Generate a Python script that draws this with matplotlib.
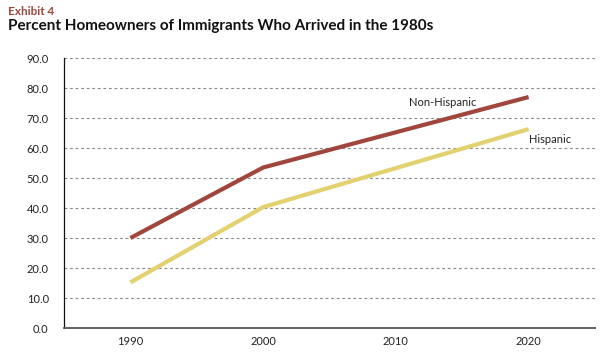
import matplotlib
matplotlib.use("Agg")
import matplotlib.pyplot as plt

# chart data
categories = ["1990", "2000", "2010", "2020"]
years = [1990, 2000, 2020]
non_hispanic = [30.0, 53.5, 77.0]
hispanic = [15.2, 40.3, 66.3]
yticks = [0, 10, 20, 30, 40, 50, 60, 70, 80, 90]

RED = "#a0463c"
YELLOW = "#e3d06f"

plt.rcParams["font.family"] = ["Lato", "DejaVu Sans"]

fig = plt.figure(figsize=(6.05, 3.54), dpi=100)
ax = fig.add_axes([0.1058, 0.0734, 0.8777, 0.7627])

xpos = [categories.index(str(y)) for y in years]
ax.plot(xpos, non_hispanic, color=RED, lw=3.0, solid_capstyle="butt")
ax.plot(xpos, hispanic, color=YELLOW, lw=3.0, solid_capstyle="butt")

ax.text(2.355, 75.3, "Non-Hispanic", fontsize=8, ha="center", va="center", color="#222222")
ax.text(3.0, 62.7, "Hispanic", fontsize=8, ha="left", va="center", color="#222222")

ax.set_xlim(-0.5, 3.5)
ax.set_ylim(0, 90)
ax.set_xticks(range(len(categories)))
ax.set_xticklabels(categories)
ax.set_yticks(yticks)
ax.set_yticklabels([f"{v:.1f}" for v in yticks])
ax.tick_params(axis="both", length=0, labelsize=8, colors="#222222")
ax.tick_params(axis="y", pad=11)
ax.tick_params(axis="x", pad=6)

for v in yticks[1:]:
    ax.axhline(v, color="#888888", lw=0.8, ls=(0, (2.5, 2.5)), zorder=0)

for side in ("top", "right"):
    ax.spines[side].set_visible(False)
ax.spines["left"].set_color("#111111")
ax.spines["left"].set_linewidth(0.9)
ax.spines["bottom"].set_color("#555555")
ax.spines["bottom"].set_linewidth(1.3)

fig.text(0.013, 0.968, "Exhibit 4", fontsize=8.5, fontweight="bold", color=RED, va="center")
fig.text(0.013, 0.927, "Percent Homeowners of Immigrants Who Arrived in the 1980s",
         fontsize=11, fontweight="bold", color="#111111", va="center")

fig.savefig("out.png", dpi=100, facecolor="white")
